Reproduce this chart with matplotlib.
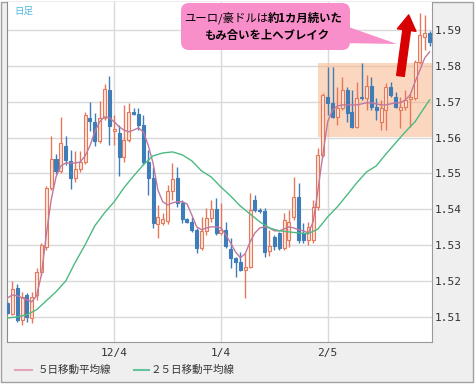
import matplotlib
matplotlib.use("Agg")
import matplotlib.pyplot as plt
from matplotlib.patches import Rectangle, FancyBboxPatch, Polygon
from matplotlib.lines import Line2D
from matplotlib.transforms import IdentityTransform
import numpy as np

# daily candles, EUR/AUD (index 0 = first visible day)
opens = [1.5139, 1.5108, 1.5181, 1.5092, 1.5162, 1.5097, 1.5161, 1.5226, 1.5295, 1.5460,
         1.5540, 1.5507, 1.5577, 1.5535, 1.5488, 1.5513, 1.5532, 1.5655, 1.5644, 1.5591,
         1.5655, 1.5733, 1.5619, 1.5613, 1.5546, 1.5593, 1.5671, 1.5666, 1.5635, 1.5532,
         1.5488, 1.5359, 1.5362, 1.5368, 1.5451, 1.5488, 1.5418, 1.5373, 1.5365, 1.5343,
         1.5293, 1.5340, 1.5376, 1.5401, 1.5334, 1.5343, 1.5290, 1.5265, 1.5253, 1.5231,
         1.5239, 1.5426, 1.5398, 1.5396, 1.5284, 1.5323, 1.5334, 1.5293, 1.5315, 1.5379,
         1.5435, 1.5334, 1.5315, 1.5315, 1.5407, 1.5552, 1.5713, 1.5697, 1.5658, 1.5683,
         1.5733, 1.5671, 1.5630, 1.5713, 1.5710, 1.5744, 1.5685, 1.5644, 1.5677, 1.5741,
         1.5713, 1.5677, 1.5685, 1.5708, 1.5710, 1.5811, 1.5880, 1.5892]
highs = [1.5148, 1.5200, 1.5192, 1.5170, 1.5167, 1.5170, 1.5237, 1.5306, 1.5465, 1.5605,
         1.5554, 1.5658, 1.5605, 1.5566, 1.5563, 1.5563, 1.5671, 1.5699, 1.5669, 1.5702,
         1.5750, 1.5772, 1.5663, 1.5635, 1.5691, 1.5697, 1.5683, 1.5683, 1.5663, 1.5566,
         1.5518, 1.5412, 1.5390, 1.5468, 1.5529, 1.5518, 1.5426, 1.5376, 1.5379, 1.5348,
         1.5379, 1.5404, 1.5426, 1.5432, 1.5418, 1.5365, 1.5320, 1.5267, 1.5281, 1.5279,
         1.5446, 1.5440, 1.5404, 1.5404, 1.5343, 1.5329, 1.5337, 1.5390, 1.5398, 1.5490,
         1.5474, 1.5362, 1.5365, 1.5426, 1.5571, 1.5724, 1.5797, 1.5797, 1.5741, 1.5769,
         1.5741, 1.5733, 1.5755, 1.5808, 1.5775, 1.5769, 1.5710, 1.5705, 1.5752, 1.5755,
         1.5727, 1.5713, 1.5733, 1.5724, 1.5816, 1.5947, 1.5942, 1.5897]
lows = [1.5106, 1.5106, 1.5086, 1.5078, 1.5086, 1.5083, 1.5148, 1.5218, 1.5287, 1.5454,
        1.5499, 1.5501, 1.5524, 1.5457, 1.5476, 1.5504, 1.5527, 1.5619, 1.5577, 1.5585,
        1.5649, 1.5579, 1.5579, 1.5493, 1.5532, 1.5588, 1.5663, 1.5621, 1.5524, 1.5440,
        1.5348, 1.5320, 1.5357, 1.5359, 1.5426, 1.5407, 1.5362, 1.5362, 1.5337, 1.5279,
        1.5287, 1.5329, 1.5365, 1.5329, 1.5329, 1.5293, 1.5237, 1.5212, 1.5229, 1.5153,
        1.5237, 1.5393, 1.5390, 1.5267, 1.5270, 1.5287, 1.5287, 1.5287, 1.5295, 1.5370,
        1.5306, 1.5306, 1.5301, 1.5306, 1.5398, 1.5546, 1.5663, 1.5655, 1.5635, 1.5677,
        1.5644, 1.5627, 1.5627, 1.5705, 1.5677, 1.5677, 1.5649, 1.5621, 1.5621, 1.5713,
        1.5683, 1.5627, 1.5677, 1.5630, 1.5705, 1.5805, 1.5844, 1.5855]
closes = [1.5111, 1.5178, 1.5092, 1.5156, 1.5100, 1.5156, 1.5226, 1.5301, 1.5460, 1.5540,
          1.5507, 1.5585, 1.5538, 1.5488, 1.5513, 1.5532, 1.5663, 1.5646, 1.5591, 1.5655,
          1.5736, 1.5632, 1.5623, 1.5546, 1.5593, 1.5671, 1.5666, 1.5635, 1.5532, 1.5488,
          1.5362, 1.5379, 1.5373, 1.5451, 1.5485, 1.5418, 1.5373, 1.5365, 1.5343, 1.5293,
          1.5340, 1.5376, 1.5401, 1.5334, 1.5343, 1.5298, 1.5265, 1.5253, 1.5231, 1.5239,
          1.5398, 1.5398, 1.5396, 1.5281, 1.5298, 1.5298, 1.5293, 1.5370, 1.5365, 1.5435,
          1.5315, 1.5315, 1.5351, 1.5407, 1.5552, 1.5719, 1.5697, 1.5658, 1.5683, 1.5733,
          1.5669, 1.5630, 1.5710, 1.5710, 1.5744, 1.5685, 1.5677, 1.5683, 1.5741, 1.5719,
          1.5685, 1.5685, 1.5705, 1.5713, 1.5811, 1.5886, 1.5892, 1.5867]

# moving averages
ma5 = [1.5153, 1.5161, 1.5159, 1.5153, 1.5148, 1.5142, 1.5159, 1.5218, 1.5329, 1.5426,
       1.5490, 1.5521, 1.5529, 1.5529, 1.5529, 1.5532, 1.5549, 1.5577, 1.5616, 1.5644,
       1.5658, 1.5655, 1.5644, 1.5630, 1.5621, 1.5616, 1.5621, 1.5627, 1.5616, 1.5579,
       1.5529, 1.5454, 1.5421, 1.5412, 1.5418, 1.5421, 1.5421, 1.5415, 1.5384, 1.5351,
       1.5343, 1.5348, 1.5351, 1.5351, 1.5348, 1.5329, 1.5306, 1.5281, 1.5265, 1.5276,
       1.5309, 1.5334, 1.5348, 1.5351, 1.5348, 1.5340, 1.5340, 1.5345, 1.5351, 1.5348,
       1.5343, 1.5340, 1.5334, 1.5365, 1.5454, 1.5552, 1.5644, 1.5677, 1.5688, 1.5691,
       1.5691, 1.5691, 1.5691, 1.5694, 1.5697, 1.5697, 1.5694, 1.5691, 1.5691, 1.5694,
       1.5697, 1.5697, 1.5705, 1.5719, 1.5755, 1.5788, 1.5822, 1.5839]
ma25_days = list(range(0, 88, 2)) + [87]
ma25 = [1.5097, 1.5100, 1.5106, 1.5120, 1.5145, 1.5170, 1.5200, 1.5253, 1.5301, 1.5354,
        1.5390, 1.5421, 1.5460, 1.5493, 1.5524, 1.5549, 1.5557, 1.5560, 1.5552, 1.5535,
        1.5507, 1.5490, 1.5462, 1.5437, 1.5409, 1.5387, 1.5365, 1.5348, 1.5340, 1.5337,
        1.5334, 1.5332, 1.5345, 1.5379, 1.5407, 1.5440, 1.5474, 1.5504, 1.5521, 1.5554,
        1.5585, 1.5616, 1.5644, 1.5685, 1.5705]

date_ticks = [22, 44, 66]
date_labels = ["12/4", "1/4", "2/5"]
price_ticks = [1.51, 1.52, 1.53, 1.54, 1.55, 1.56, 1.57, 1.58, 1.59]

W, H = 476, 386
fig = plt.figure(figsize=(W / 100, H / 100), dpi=100)
fig.patch.set_facecolor("white")

def px(x, y):
    return (x, H - y)

# gray frame behind everything
fig.add_artist(Rectangle(px(1, 382), 472, 380, transform=IdentityTransform(),
                         facecolor="#efefef", edgecolor="#a0a0a0", lw=1, zorder=-5))

ax = fig.add_axes([7 / W, 1 - 342 / H, 425 / W, 340 / H])
ax.set_facecolor("white")
ax.set_xlim(-0.1, 87.5)
ax.set_ylim(1.5030, 1.5978)

ax.set_yticks(price_ticks)
ax.set_yticklabels(["%.2f" % p for p in price_ticks])
ax.yaxis.tick_right()
ax.set_xticks(date_ticks)
ax.set_xticklabels(date_labels)
ax.tick_params(length=0, labelsize=8, labelcolor="#333333")
ax.tick_params(axis="y", pad=2)
ax.tick_params(axis="x", pad=4)
for lab in ax.get_xticklabels() + ax.get_yticklabels():
    lab.set_family("DejaVu Sans Mono")
ax.grid(True, color="#d9d9d9", lw=1)
ax.set_axisbelow(True)
ax.spines["top"].set_visible(False)
ax.spines["left"].set_color("#8a8a8a")
ax.spines["right"].set_color("#9a9a9a")
ax.spines["bottom"].set_color("#9a9a9a")

# range box
ax.add_patch(Rectangle((64.1, 1.5602), 87.5 - 64.1, 1.5808 - 1.5602,
                       facecolor="#f7b68a", alpha=0.55, edgecolor="none", zorder=1))

days = np.arange(len(opens))
o = np.array(opens)
c = np.array(closes)
up = c >= o
up_edge, up_face = "#e5785a", "#fde4da"
dn_col = "#3f7db8"

ax.vlines(days[up], np.array(lows)[up], np.array(highs)[up], color=up_edge, lw=1, zorder=2)
ax.vlines(days[~up], np.array(lows)[~up], np.array(highs)[~up], color=dn_col, lw=1, zorder=2)
body_h = np.maximum(np.abs(c - o), 0.00012)
ax.bar(days[up], body_h[up], bottom=np.minimum(o, c)[up], width=0.62,
       facecolor=up_face, edgecolor=up_edge, lw=0.8, zorder=3)
ax.bar(days[~up], body_h[~up], bottom=np.minimum(o, c)[~up], width=0.62,
       facecolor=dn_col, edgecolor=dn_col, lw=0.8, zorder=3)

ax.plot(days, ma5, color="#c0789e", lw=1, zorder=4)
ax.plot(ma25_days, ma25, color="#4cba80", lw=1, zorder=4)

# red arrow
ax.annotate("", xy=(82.7, 1.5942), xytext=(81.0, 1.5772),
            arrowprops=dict(arrowstyle="simple,head_length=1.1,head_width=1.35,tail_width=0.55",
                            mutation_scale=10, color="#d80000", shrinkA=0, shrinkB=0),
            zorder=6)

# "日足"
fig.text(14 / W, 1 - 11 / H, "日足", color="#4fb6e2", fontsize=6.8, va="center",
         family=["Noto Sans CJK JP", "DejaVu Sans"])

# callout
fig.add_artist(Polygon([px(340, 24), px(340, 43), px(397, 44)], closed=True,
                       transform=IdentityTransform(), facecolor="#f98fca",
                       edgecolor="none", zorder=7))
fig.add_artist(FancyBboxPatch(px(181, 50), 169, 47, transform=IdentityTransform(),
                              boxstyle="round,pad=0,rounding_size=8",
                              facecolor="#f98fca", edgecolor="none", zorder=7))
jp = ["Noto Sans CJK JP", "DejaVu Sans"]
x0, y0 = px(268, 18)
fig.text(x0 / W, y0 / H, "ユーロ/豪ドルは", ha="right", va="center", fontsize=8.2,
         color="black", family=jp, zorder=8)
fig.text(x0 / W, y0 / H, "約1カ月続いた", ha="left", va="center", fontsize=8.2,
         color="black", fontweight="bold", family=jp, zorder=8)
x1, y1 = px(267, 35)
fig.text(x1 / W, y1 / H, "もみ合いを上へブレイク", ha="center", va="center", fontsize=8.2,
         color="black", fontweight="bold", family=jp, zorder=8)

# legend
for (xa, xb, xt, col, label) in [(15, 32, 38, "#e3a3bd", "５日移動平均線"),
                                  (134, 149, 151, "#66c49a", "２５日移動平均線")]:
    fig.add_artist(Line2D([xa, xb], [H - 370, H - 370], transform=IdentityTransform(),
                          color=col, lw=1.5))
    fig.text(xt / W, 1 - 370 / H, label, va="center", ha="left", fontsize=7.6,
             color="#333333", family=jp)

fig.savefig("out.png", dpi=100, facecolor=fig.get_facecolor())
